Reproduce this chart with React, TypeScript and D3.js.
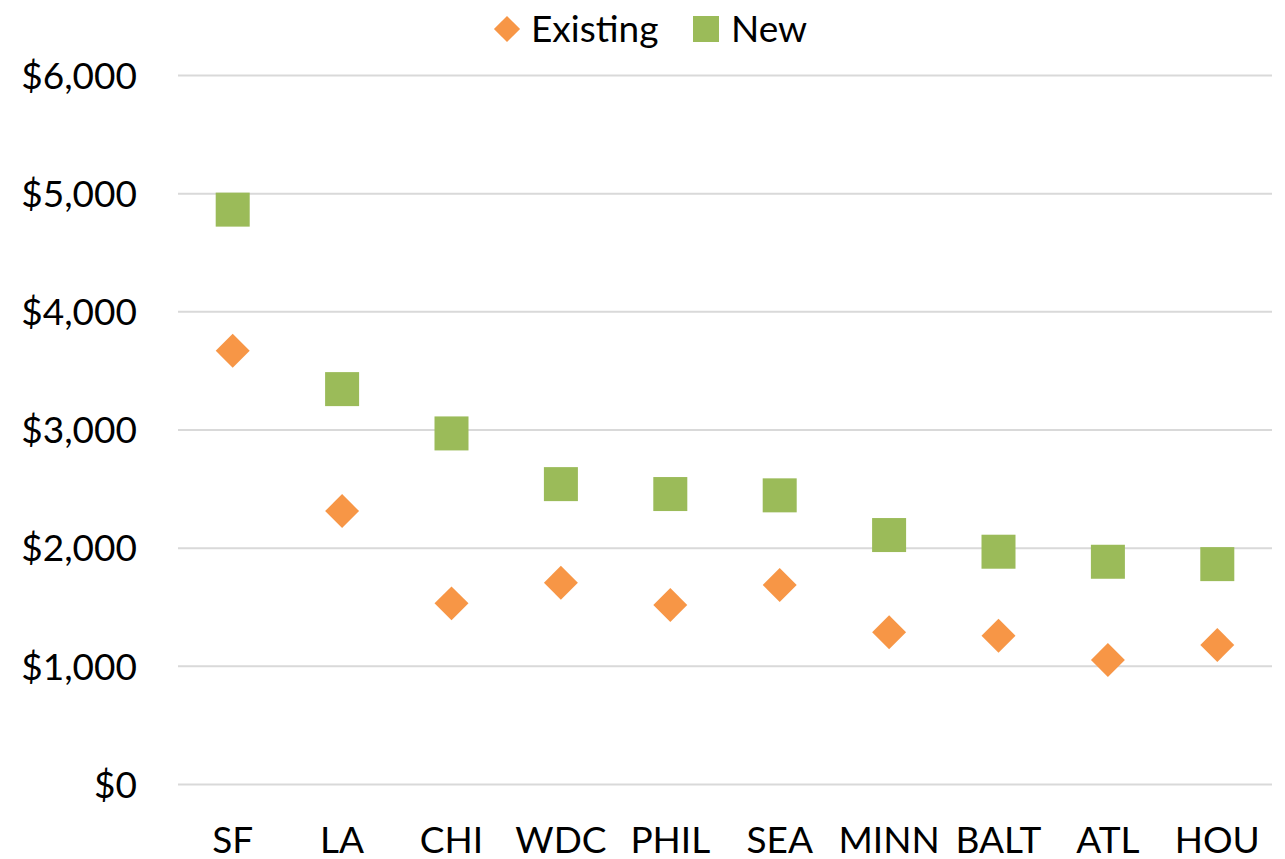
import React from "react";
import * as d3 from "d3";

const categories = ["SF", "LA", "CHI", "WDC", "PHIL", "SEA", "MINN", "BALT", "ATL", "HOU"];
const existingValues = [3670, 2314, 1533, 1707, 1519, 1688, 1288, 1259, 1053, 1180];
const newValues = [4865, 3346, 2971, 2542, 2458, 2447, 2111, 1970, 1885, 1865];
const yTicks = [0, 1000, 2000, 3000, 4000, 5000, 6000];

const W = 1285;
const H = 859;
const M = { left: 178, right: 1272, top: 75.5, bottom: 784.5 };
const FONT = "Lato, 'Open Sans', sans-serif";
const ORANGE = "#f79646";
const GREEN = "#9bbb59";

export default function App() {
  const x = d3.scaleBand<string>().domain(categories).range([M.left, M.right]);
  const y = d3.scaleLinear().domain([0, 6000]).range([M.bottom, M.top]);
  const fmt = (v: number) => "$" + d3.format(",")(v);
  const sq = 34;
  const diamond = d3.symbol().type(d3.symbolSquare).size(24 * 24)();

  return (
    <svg width={W} height={H} style={{ position: "absolute", left: 0, top: 0, background: "#fff" }}>
      {yTicks.map((t) => (
        <g key={t}>
          <line x1={M.left} x2={M.right} y1={y(t)} y2={y(t)} stroke="#d9d9d9" strokeWidth={2} />
          <text x={137} y={y(t)} dy="0.36em" textAnchor="end" fontFamily={FONT} fontSize={37} fill="#000">
            {fmt(t)}
          </text>
        </g>
      ))}
      {categories.map((c) => (
        <text key={c} x={x(c)! + x.bandwidth() / 2} y={853} textAnchor="middle" fontFamily={FONT} fontSize={37} fill="#000">
          {c}
        </text>
      ))}
      {categories.map((c, i) => (
        <rect
          key={"n" + c}
          x={x(c)! + x.bandwidth() / 2 - sq / 2}
          y={y(newValues[i]) - sq / 2}
          width={sq}
          height={sq}
          fill={GREEN}
        />
      ))}
      {categories.map((c, i) => (
        <path
          key={"e" + c}
          d={diamond || ""}
          transform={`translate(${x(c)! + x.bandwidth() / 2},${y(existingValues[i])}) rotate(45)`}
          fill={ORANGE}
        />
      ))}
      {/* legend */}
      <path d={d3.symbol().type(d3.symbolSquare).size(18.5 * 18.5)() || ""} transform="translate(507,29) rotate(45)" fill={ORANGE} />
      <text x={531} y={29} dy="0.36em" fontFamily={FONT} fontSize={37} fill="#000">Existing</text>
      <rect x={693} y={16} width={26} height={26} fill={GREEN} />
      <text x={731} y={29} dy="0.36em" fontFamily={FONT} fontSize={37} fill="#000">New</text>
    </svg>
  );
}
